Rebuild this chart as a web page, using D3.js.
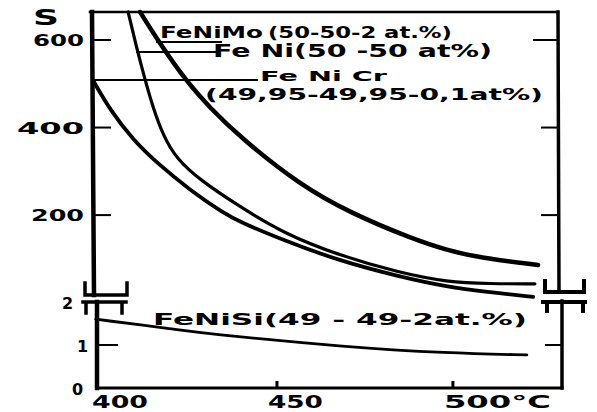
<!DOCTYPE html>
<html>
<head>
<meta charset="utf-8">
<script src="https://cdn.jsdelivr.net/npm/d3@7"></script>
<style>
    body { margin: 0; background: #fff; }
    svg { display: block; }
    text { font-family: "DejaVu Sans", sans-serif; font-weight: bold; fill: #000; }
</style>
</head>
<body>
<svg width="597" height="412"></svg>
<script>
// temperature (deg C) and S
let feNiMoT = [411.1, 416.8, 424.4, 431.0, 439.5, 456.5, 470.8, 488.7, 498.3, 507.7, 524.2];
let feNiMoS = [664, 591, 504, 445, 378, 269, 205, 145, 120, 102, 86];
let feNiT = [407.7, 409.9, 412.5, 414.8, 417.6, 421.3, 428.1, 439.5, 451.7, 467.9, 485.0, 498.3, 510.5, 523.3];
let feNiS = [664, 589, 509, 445, 383, 330, 280, 219, 159, 107, 68, 47, 43, 43];
let feNiCrT = [398, 402.6, 409.1, 415.9, 425.3, 434.7, 439.5, 451.7, 467.9, 485.0, 498.3, 510.5, 522.8];
let feNiCrS = [504, 440, 372, 319, 257, 205, 184, 143, 95, 59, 36, 24, 13];
let feNiSiT = [398.5, 422.4, 428.1, 469.9, 498.3, 521];
let feNiSiS = [1.6, 1.35, 1.28, 0.95, 0.81, 0.77];

let upperTicks = [600, 400, 200];
let lowerTicks = [2, 1, 0];
let xTicks = [400, 450, 500];
let xTickLabels = ["400", "450", "500°C"];

let svg = d3.select("svg");

let x = d3.scaleLinear().domain([398, 531]).range([94, 562]);
let yUp = d3.scaleLinear().domain([22, 664]).range([293, 12]);
let yLow = d3.scaleLinear().domain([0, 2.14]).range([388, 296]);

let leftUp = 92, leftLow = 97, rightUp = 558, rightLow = 562;

function zip(a, b) {
    return a.map(function (d, i) { return [d, b[i]]; });
}

// frame
let frame = svg.append("g").attr("stroke", "#000").attr("fill", "none").attr("stroke-linecap", "square");
frame.append("line").attr("x1", leftUp - 2).attr("x2", rightUp).attr("y1", yUp(664)).attr("y2", yUp(664)).attr("stroke-width", 2.5);
frame.append("line").attr("x1", leftUp).attr("x2", leftUp + 2).attr("y1", yUp(664)).attr("y2", 295).attr("stroke-width", 4.5);
frame.append("line").attr("x1", leftLow).attr("x2", leftLow).attr("y1", 302).attr("y2", yLow(0)).attr("stroke-width", 4.5);
frame.append("line").attr("x1", rightUp).attr("x2", rightUp + 1).attr("y1", yUp(664)).attr("y2", 292).attr("stroke-width", 3.5);
frame.append("line").attr("x1", rightLow).attr("x2", rightLow).attr("y1", 301).attr("y2", yLow(0)).attr("stroke-width", 3.5);
frame.append("line").attr("x1", leftLow).attr("x2", rightLow).attr("y1", yLow(0)).attr("y2", yLow(0)).attr("stroke-width", 3);

// break marks
frame.append("path").attr("d", "M85,283V295H127V283").attr("stroke-width", 3.5);
frame.append("path").attr("d", "M83,302H126M86,302V313M122,302V313").attr("stroke-width", 3.5);
frame.append("path").attr("d", "M545,281V292H584V281").attr("stroke-width", 4);
frame.append("path").attr("d", "M543,302H585M547,302V311M583,302V311").attr("stroke-width", 4);

// ticks
svg.selectAll(".tl").data(upperTicks).enter().append("line")
    .attr("x1", leftUp).attr("x2", 111)
    .attr("y1", function (d) { return yUp(d); }).attr("y2", function (d) { return yUp(d); })
    .attr("stroke", "#000").attr("stroke-width", 2);
svg.selectAll(".tr").data(upperTicks.slice(1)).enter().append("line")
    .attr("x1", rightUp - 17).attr("x2", rightUp)
    .attr("y1", function (d) { return yUp(d); }).attr("y2", function (d) { return yUp(d); })
    .attr("stroke", "#000").attr("stroke-width", 2);
svg.append("line").attr("x1", 533).attr("x2", rightUp).attr("y1", yUp(600)).attr("y2", yUp(600))
    .attr("stroke", "#000").attr("stroke-width", 2);
svg.append("line").attr("x1", leftLow).attr("x2", 118).attr("y1", yLow(1)).attr("y2", yLow(1))
    .attr("stroke", "#000").attr("stroke-width", 2);
svg.append("line").attr("x1", rightLow - 17).attr("x2", rightLow).attr("y1", yLow(1)).attr("y2", yLow(1))
    .attr("stroke", "#000").attr("stroke-width", 2);
svg.selectAll(".tx").data(xTicks.slice(1)).enter().append("line")
    .attr("x1", function (d) { return x(d); }).attr("x2", function (d) { return x(d); })
    .attr("y1", yLow(0) - 7).attr("y2", yLow(0))
    .attr("stroke", "#000").attr("stroke-width", 3);

// tick labels
let upW = [51, 67, 53];
svg.selectAll(".lu").data(upperTicks).enter().append("text")
    .attr("x", function (d, i) { return 84 - upW[i]; })
    .attr("y", function (d) { return yUp(d) + 6; })
    .attr("font-size", 16)
    .attr("textLength", function (d, i) { return upW[i]; })
    .attr("lengthAdjust", "spacingAndGlyphs")
    .text(function (d) { return d; });
let lowX = [62, 77, 72];
svg.selectAll(".ll").data(lowerTicks).enter().append("text")
    .attr("x", function (d, i) { return lowX[i]; })
    .attr("y", function (d) { return yLow(d) + 7; })
    .attr("font-size", 16)
    .text(function (d) { return d; });
let xW = [56, 55, 107];
svg.selectAll(".lx").data(xTicks).enter().append("text")
    .attr("x", function (d, i) { return x(d) - 9; })
    .attr("y", 408)
    .attr("font-size", 17)
    .attr("textLength", function (d, i) { return xW[i]; })
    .attr("lengthAdjust", "spacingAndGlyphs")
    .text(function (d, i) { return xTickLabels[i]; });
svg.append("text").attr("x", 33).attr("y", 25).attr("font-size", 22)
    .attr("textLength", 26).attr("lengthAdjust", "spacingAndGlyphs").text("S");

// curves
let upLine = d3.line().curve(d3.curveBasis)
    .x(function (d) { return x(d[0]); })
    .y(function (d) { return yUp(d[1]); });
let series = [
    [feNiMoT, feNiMoS, 4.5],
    [feNiT, feNiS, 3.2],
    [feNiCrT, feNiCrS, 3.8]
];
series.forEach(function (s) {
    svg.append("path")
        .attr("d", upLine(zip(s[0], s[1])))
        .attr("fill", "none").attr("stroke", "#000")
        .attr("stroke-width", s[2]).attr("stroke-linecap", "round");
});
let lowLine = d3.line().curve(d3.curveBasis)
    .x(function (d) { return x(d[0]); })
    .y(function (d) { return yLow(d[1]); });
svg.append("path")
    .attr("d", lowLine(zip(feNiSiT, feNiSiS)))
    .attr("fill", "none").attr("stroke", "#000")
    .attr("stroke-width", 2.8).attr("stroke-linecap", "round");

// leader lines
let leaders = svg.append("g").attr("stroke", "#000").attr("stroke-width", 2);
leaders.append("line").attr("x1", 156).attr("x2", 222).attr("y1", 42).attr("y2", 42);
leaders.append("line").attr("x1", 136).attr("x2", 217).attr("y1", 52).attr("y2", 52);
leaders.append("line").attr("x1", leftUp).attr("x2", 258).attr("y1", 80).attr("y2", 80);

// annotations
function label(tx, ty, str, size, w) {
    svg.append("text").attr("x", tx).attr("y", ty)
        .attr("font-size", size)
        .attr("textLength", w).attr("lengthAdjust", "spacingAndGlyphs")
        .text(str);
}
label(160, 38, "FeNiMo", 16, 103);
label(268, 38, "(50-50-2 at.%)", 16, 184);
label(213, 57, "Fe Ni(50 -50 at%)", 17, 279);
label(260, 81, "Fe Ni Cr", 14, 127);
label(205, 100, "(49,95-49,95-0,1at%)", 15, 338);
label(153, 325, "FeNiSi(49 - 49-2at.%)", 16, 374);
</script>
</body>
</html>
